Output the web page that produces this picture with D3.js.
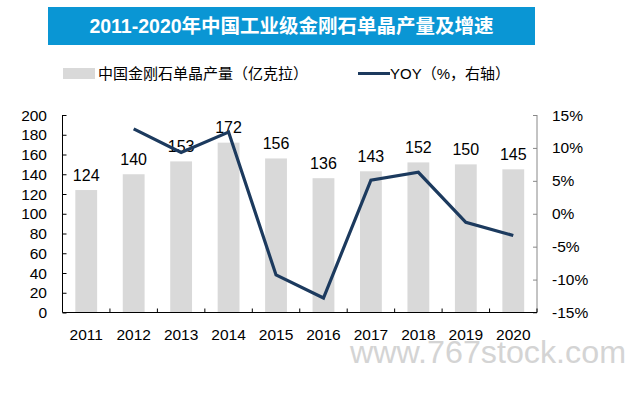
<!DOCTYPE html>
<html><head><meta charset="utf-8">
<script src="https://cdn.jsdelivr.net/npm/d3@7/dist/d3.min.js"></script>
<style>body{margin:0;background:#fff}svg{display:block}text{font-family:"Liberation Sans",Arial,"Noto Sans CJK SC",sans-serif}</style>
</head><body><svg id="c" width="629" height="395"></svg>
<script>
const years = ["2011","2012","2013","2014","2015","2016","2017","2018","2019","2020"];
const output = [124,140,153,172,156,136,143,152,150,145];
const yoy = [null,12.9,9.3,12.4,-9.3,-12.8,5.1,6.3,-1.3,-3.3];
const leftTicks = [0,20,40,60,80,100,120,140,160,180,200];
const rightTicks = [-15,-10,-5,0,5,10,15];
const title = "2011-2020年中国工业级金刚石单晶产量及增速";
const legendBar = "中国金刚石单晶产量（亿克拉）";
const legendLine = "YOY（%，右轴）";

const svg = d3.select("#c");
const pL = 62.5, pR = 537, pT = 115, pB = 312.5;
const x = d3.scaleBand().domain(years).range([pL, pR]).padding(0);
const yL = d3.scaleLinear().domain([0,200]).range([pB, pT]);
const yR = d3.scaleLinear().domain([-15,15]).range([pB, pT]);
const barW = x.bandwidth()*0.46;

// watermark
svg.append("text").attr("x",350).attr("y",363).attr("font-size",32).attr("fill","#d4d4d4")
  .attr("font-family","DejaVu Sans, sans-serif").attr("font-weight",200)
  .attr("textLength",276).attr("lengthAdjust","spacingAndGlyphs").text("www.767stock.com");

// title
svg.append("rect").attr("x",48).attr("y",7).attr("width",487).attr("height",38).attr("fill","#0a96d4");
svg.append("text").attr("x",291.5).attr("y",33).attr("text-anchor","middle").attr("fill","#fff")
  .attr("font-size",19.5).attr("font-weight","bold").text(title);

// legend
svg.append("rect").attr("x",63).attr("y",68).attr("width",32).attr("height",11).attr("fill","#d9d9d9");
svg.append("text").attr("x",98).attr("y",79).attr("font-size",15).attr("fill","#000").text(legendBar);
svg.append("line").attr("x1",358).attr("x2",390).attr("y1",73.5).attr("y2",73.5).attr("stroke","#1c3a5e").attr("stroke-width",3);
svg.append("text").attr("x",390).attr("y",79).attr("font-size",15).attr("fill","#000").text(legendLine);

// bars
svg.selectAll("rect.bar").data(years).enter().append("rect").attr("class","bar")
  .attr("x",d=>x(d)+(x.bandwidth()-barW)/2).attr("width",barW)
  .attr("y",(d,i)=>yL(output[i])).attr("height",(d,i)=>yL(0)-yL(output[i]))
  .attr("fill","#d9d9d9");

// bar labels
svg.selectAll("text.lbl").data(years).enter().append("text").attr("class","lbl")
  .attr("x",d=>x(d)+x.bandwidth()/2).attr("y",(d,i)=>yL(output[i])-9.5)
  .attr("text-anchor","middle").attr("font-size",16).attr("fill","#000").text((d,i)=>output[i]);

// axes
const axL = svg.append("g").attr("transform",`translate(${pL},0)`)
  .call(d3.axisRight(yL).tickValues(leftTicks).tickSize(4).tickFormat(""));
axL.selectAll("path,line").attr("stroke","#000");
axL.select(".domain").attr("d",`M0,${pT}V${pB}`);
svg.selectAll("text.yl").data(leftTicks).enter().append("text").attr("class","yl")
  .attr("x",47).attr("y",d=>yL(d)).attr("dy","0.36em").attr("text-anchor","end")
  .attr("font-size",15.5).attr("fill","#000").text(d=>d);

const axR = svg.append("g").attr("transform",`translate(${pR},0)`)
  .call(d3.axisLeft(yR).tickValues(rightTicks).tickSize(4).tickFormat(""));
axR.selectAll("path,line").attr("stroke","#888");
axR.select(".domain").attr("d",`M0,${pT}V${pB}`);
svg.selectAll("text.yr").data(rightTicks).enter().append("text").attr("class","yr")
  .attr("x",552).attr("y",d=>yR(d)).attr("dy","0.36em").attr("text-anchor","start")
  .attr("font-size",15.5).attr("fill","#000").text(d=>d+"%");

// x axis
const bx = svg.append("g");
bx.append("line").attr("x1",pL).attr("x2",pR).attr("y1",pB).attr("y2",pB).attr("stroke","#000");
bx.selectAll("line.t").data(years.slice(1)).enter().append("line").attr("class","t")
  .attr("x1",d=>x(d)).attr("x2",d=>x(d)).attr("y1",pB).attr("y2",pB-4).attr("stroke","#000");
bx.append("line").attr("x1",pR).attr("x2",pR).attr("y1",pB).attr("y2",pB-4).attr("stroke","#000");
svg.selectAll("text.xl").data(years).enter().append("text").attr("class","xl")
  .attr("x",d=>x(d)+x.bandwidth()/2).attr("y",340).attr("text-anchor","middle")
  .attr("font-size",15.5).attr("fill","#000").text(d=>d);

// line
const pts = years.map((d,i)=>({x:x(d)+x.bandwidth()/2, v:yoy[i]})).filter(p=>p.v!==null);
svg.append("path").datum(pts).attr("fill","none").attr("stroke","#1c3a5e").attr("stroke-width",3.2)
  .attr("stroke-linejoin","miter")
  .attr("d",d3.line().x(p=>p.x).y(p=>yR(p.v)));
</script></body></html>
